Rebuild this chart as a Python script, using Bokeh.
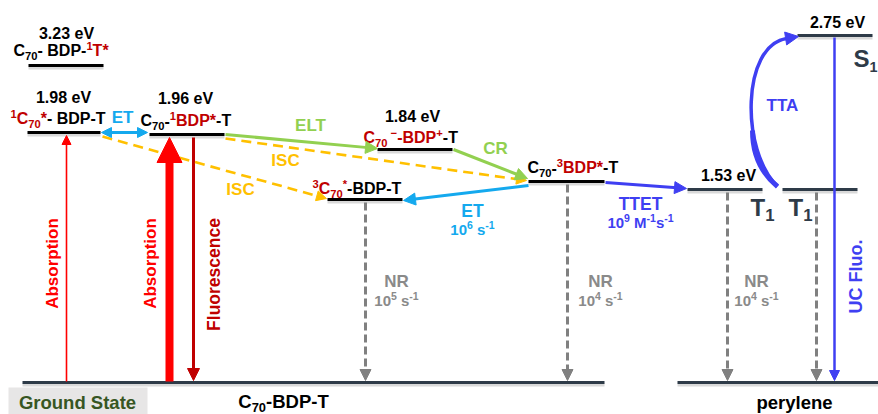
import math
import numpy as np
from bokeh.plotting import figure
from bokeh.models import Range1d, Arrow, NormalHead, ColumnDataSource
from bokeh.embed import file_html
from bokeh.resources import INLINE
from bokeh.core.properties import value

# ---------------- data ----------------
energies_eV = [3.23, 1.98, 1.96, 1.84, 1.53, 2.75]
rate_ET_exp = 6          # ET 10^6 s^-1
rate_TTET_exp = 9        # TTET 10^9 M^-1 s^-1
nr_rate_exps = [5, 4, 4] # NR 10^x s^-1

# energy levels (diagram layout)
level_x0 = [28, 27, 149, 377, 528, 327, 687, 782, 797, 22, 677]
level_x1 = [103, 100, 224, 452, 604, 402, 762, 857, 872, 604, 878]
level_y = [65, 132, 134, 149, 181, 199, 189, 189, 35, 382, 382]
level_kind = ["m", "m", "m", "m", "m", "m", "p", "p", "p", "p", "p"]

energy_x = [66, 63, 185, 412, 728, 837]
energy_y = [33, 97, 98, 116, 175, 22]

# ---------------- styles ----------------
FONT = "Liberation Sans"
BLACK = "#000000"
SLATE = "#2e3b48"
RED = "#ff0000"
DRED = "#c00000"
CYAN = "#14a9ee"
GREEN = "#92d050"
YELLOW = "#ffc000"
BLUE = "#3f3ff2"
GRAY = "#808080"
GTXT = "#8a8a8a"

W = {
    '0': 556, '1': 556, '2': 556, '3': 556, '4': 556, '5': 556, '6': 556, '7': 556, '8': 556, '9': 556,
    'A': 722, 'B': 722, 'C': 722, 'D': 722, 'E': 667, 'F': 611, 'G': 778, 'L': 611, 'M': 833,
    'N': 722, 'P': 667, 'R': 722, 'S': 667, 'T': 611, 'U': 722, 'V': 667,
    'a': 556, 'b': 611, 'c': 556, 'd': 611, 'e': 556, 'i': 278, 'l': 278, 'n': 611, 'o': 611,
    'p': 611, 'r': 389, 's': 556, 't': 333, 'u': 611, 'y': 556,
    ' ': 278, '-': 333, '*': 389, '+': 584, '\u2212': 584, '.': 278,
}

SMALL = 0.7


def tw(s, size):
    return sum(W.get(c, 556) for c in s) * size / 1000.0


runs = dict(x=[], y=[], text=[], color=[], size=[])


def add_run(x, y, t, c, s):
    runs["x"].append(x)
    runs["y"].append(y)
    runs["text"].append(t)
    runs["color"].append(c)
    runs["size"].append("%.1fpx" % s)


def rich(x, cy, size, parts, small=SMALL):
    base = cy + 0.36 * size
    for txt, col, kind in parts:
        if kind == "n":
            fs, yb = size, base
        elif kind == "sub":
            fs, yb = small * size, base + 0.22 * size
        else:
            fs, yb = small * size, base - 0.40 * size
        stripped = txt.lstrip(" ")
        x += tw(txt[:len(txt) - len(stripped)], fs)
        add_run(x, yb - 0.36 * fs, stripped, col, fs)
        x += tw(stripped, fs)


def rich_width(size, parts):
    w = 0
    for txt, col, kind in parts:
        w += tw(txt, size if kind == "n" else SMALL * size)
    return w


def rich_c(cx, cy, size, parts):
    rich(cx - rich_width(size, parts) / 2.0, cy, size, parts)


p = figure(width=878, height=414, x_range=Range1d(0, 878), y_range=Range1d(414, 0),
           output_backend="svg", toolbar_location=None, min_border=0,
           x_axis_location=None, y_axis_location=None)
p.grid.visible = False
p.outline_line_color = None
p.background_fill_color = "white"

# ground state box
p.quad(left=[8], right=[147], top=[387], bottom=[414], fill_color="#e7e6e6", line_color=None)

# levels with soft shadow
lsrc = ColumnDataSource(dict(
    x0=level_x0, x1=level_x1, y=level_y,
    ys=[v + 2.5 for v in level_y],
    col=[BLACK if k == "m" else SLATE for k in level_kind],
))
p.segment(x0="x0", y0="ys", x1="x1", y1="ys", source=lsrc, line_color="#000000",
          line_alpha=0.15, line_width=3)
p.segment(x0="x0", y0="y", x1="x1", y1="y", source=lsrc, line_color="col", line_width=3)


def head(x1, y1, ux, uy, color, hs):
    p.add_layout(Arrow(end=NormalHead(size=hs, fill_color=color, line_color=color, line_width=1),
                       x_start=x1 - ux, y_start=y1 - uy, x_end=x1, y_end=y1, line_alpha=0))


def arrow(x0, y0, x1, y1, color, lw, hs, dash="solid", both=False):
    dx, dy = x1 - x0, y1 - y0
    L = math.hypot(dx, dy)
    ux, uy = dx / L, dy / L
    sx0, sy0 = (x0 + ux * hs * 0.8, y0 + uy * hs * 0.8) if both else (x0, y0)
    sx1, sy1 = x1 - ux * hs * 0.8, y1 - uy * hs * 0.8
    p.segment(x0=[sx0], y0=[sy0], x1=[sx1], y1=[sy1], line_color=color, line_width=lw,
              line_dash=dash)
    head(x1, y1, ux, uy, color, hs)
    if both:
        head(x0, y0, -ux, -uy, color, hs)


# absorption / fluorescence
arrow(66, 381, 66, 135, RED, 1.6, 9)
arrow(169, 381, 169, 137, RED, 8, 25)
arrow(193, 137, 193, 380, DRED, 3, 12)
# ET (double)
arrow(101, 132, 147, 132, CYAN, 3, 10, both=True)
# ISC dashed
arrow(102, 136, 326, 198, YELLOW, 2.6, 10, dash="10 6")
arrow(225, 138, 526, 180, YELLOW, 2.6, 10, dash="10 6")
# ELT, CR
arrow(225, 134, 377, 148, GREEN, 3, 12)
arrow(453, 149, 527, 178, GREEN, 3, 12)
# ET back to 3C70
arrow(528, 185, 403, 200, CYAN, 3, 12)
# TTET
arrow(605, 182, 686, 188, BLUE, 3, 12)
# NR
for xn, yn in [(365, 202), (567, 184), (727, 192), (816, 192)]:
    arrow(xn, yn, xn, 380, GRAY, 3, 11, dash="8 4")
# UC fluorescence
arrow(834, 37, 834, 380, BLUE, 2.5, 10)
# TTA curve
p.bezier(x0=[777], y0=[186], x1=[786], y1=[38], cx0=[740], cy0=[150], cx1=[741], cy1=[45],
         line_color=BLUE, line_width=3.5)
p.bezier(x0=[777], y0=[186], x1=[752], y1=[130], cx0=[760], cy0=[172], cx1=[752], cy1=[152],
         line_color=BLUE, line_width=5)
tx, ty = 45.0, -7.0
tl = math.hypot(tx, ty)
head(798, 36, tx / tl, ty / tl, BLUE, 13)

# ---------------- texts ----------------
cen = dict(x=[], y=[], text=[], color=[], size=[])


def ctext(x, y, t, c, s):
    cen["x"].append(x)
    cen["y"].append(y)
    cen["text"].append(t)
    cen["color"].append(c)
    cen["size"].append("%.1fpx" % s)


for e, xx, yy in zip(energies_eV, energy_x, energy_y):
    ctext(xx, yy, "%.2f eV" % e, BLACK, 16)

ctext(122, 117, "ET", CYAN, 17)
ctext(310, 125, "ELT", GREEN, 17)
ctext(495, 148, "CR", GREEN, 17)
ctext(285, 160, "ISC", YELLOW, 17)
ctext(240, 189, "ISC", YELLOW, 17)
ctext(472, 210, "ET", CYAN, 17.5)
ctext(640, 203, "TTET", BLUE, 17.5)
ctext(782, 105, "TTA", BLUE, 17)
for xn in [396, 600, 756]:
    ctext(xn, 281, "NR", GTXT, 17)
ctext(77, 402, "Ground State", "#375623", 18.5)
ctext(794, 402, "perylene", BLACK, 18.5)

# rich labels
rich(13, 50, 16, [("C", BLACK, "n"), ("70", BLACK, "sub"), ("- BDP-", BLACK, "n"),
                  ("1", DRED, "sup"), ("T*", DRED, "n")])
rich(10, 118, 16, [("1", DRED, "sup"), ("C", DRED, "n"), ("70", DRED, "sub"), ("*", DRED, "n"),
                   ("- BDP-T", BLACK, "n")])
rich(140, 120, 16, [("C", BLACK, "n"), ("70", BLACK, "sub"), ("-", BLACK, "n"),
                    ("1", DRED, "sup"), ("BDP*", DRED, "n"), ("-T", BLACK, "n")])
rich(363, 137, 16, [("C", DRED, "n"), ("70", DRED, "sub"), (" \u2212", DRED, "sup"),
                    ("-BDP", DRED, "n"), ("+", DRED, "sup"), ("-T", BLACK, "n")])
rich(527, 167, 16, [("C", BLACK, "n"), ("70", BLACK, "sub"), ("-", BLACK, "n"),
                    ("3", DRED, "sup"), ("BDP*", DRED, "n"), ("-T", BLACK, "n")])
rich(312, 188, 16, [("3", DRED, "sup"), ("C", DRED, "n"), ("70", DRED, "sub"), ("*", DRED, "sup"),
                    ("-BDP-T", BLACK, "n")])
rich_c(283, 400.5, 18.5, [("C", BLACK, "n"), ("70", BLACK, "sub"), ("-BDP-T", BLACK, "n")])

rich_c(472, 229, 15, [("10", CYAN, "n"), (str(rate_ET_exp), CYAN, "sup"), (" s", CYAN, "n"),
                      ("-1", CYAN, "sup")])
rich_c(640, 222, 15, [("10", BLUE, "n"), (str(rate_TTET_exp), BLUE, "sup"), (" M", BLUE, "n"),
                      ("-1", BLUE, "sup"), ("s", BLUE, "n"), ("-1", BLUE, "sup")])
for xn, ex in zip([396, 600, 756], nr_rate_exps):
    rich_c(xn, 300, 15, [("10", GTXT, "n"), (str(ex), GTXT, "sup"), (" s", GTXT, "n"),
                         ("-1", GTXT, "sup")])

rich(750, 207, 24, [("T", SLATE, "n"), ("1", SLATE, "sub")])
rich(788, 207, 24, [("T", SLATE, "n"), ("1", SLATE, "sub")])
rich(853, 58, 24, [("S", SLATE, "n"), ("1", SLATE, "sub")], small=0.6)

p.text(x="x", y="y", text="text", source=ColumnDataSource(cen), text_color="color",
       text_font_size="size", text_font=value(FONT), text_font_style="bold",
       text_align="center", text_baseline="middle")
p.text(x="x", y="y", text="text", source=ColumnDataSource(runs), text_color="color",
       text_font_size="size", text_font=value(FONT), text_font_style="bold",
       text_align="left", text_baseline="middle")

# rotated labels
rot = dict(x=[52, 150, 213, 855], y=[263, 263, 274, 276],
           text=["Absorption", "Absorption", "Fluorescence", "UC Fluo."],
           color=[RED, RED, DRED, BLUE], size=["17px", "17px", "17.5px", "18px"])
p.text(x="x", y="y", text="text", source=ColumnDataSource(rot), text_color="color",
       text_font_size="size", text_font=value(FONT), text_font_style="bold",
       text_align="center", text_baseline="middle", angle=math.pi / 2)

open("out.html", "w").write(file_html(p, INLINE))
